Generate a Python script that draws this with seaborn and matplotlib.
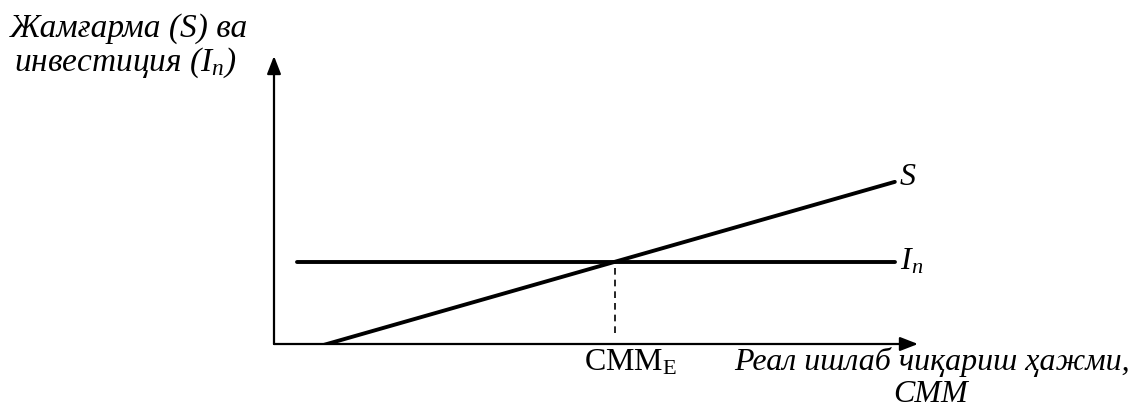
import matplotlib
matplotlib.use("Agg")
import matplotlib.pyplot as plt
import seaborn as sns
import pandas as pd

# Savings schedule S (rises with real output) and planned investment I_n (flat)
s_output = [0.745, 9.64]
s_saving = [-0.05, 5.63]
inv_output = [0.36, 9.64]
inv_level = [2.86, 2.86]

x_label = ["Реал ишлаб чиқариш ҳажми,", "СММ"]
y_label = ["Жамғарма (S) ва", "инвестиция (I$_n$)"]
eq_label = "СММ$_{\\mathrm{E}}$"

sns.set_theme(style="white")
plt.rcParams["font.family"] = ["Liberation Serif", "DejaVu Serif"]
plt.rcParams["text.color"] = "black"
plt.rcParams["mathtext.fontset"] = "custom"
plt.rcParams["mathtext.rm"] = "Liberation Serif"
plt.rcParams["mathtext.it"] = "Liberation Serif:italic"

fig = plt.figure(figsize=(11.28, 4.08), dpi=100)
ax = fig.add_axes([274 / 1128, 64 / 408, 644 / 1128, 288 / 408])
ax.set_xlim(0, 10)
ax.set_ylim(0, 10)
ax.axis("off")

s_df = pd.DataFrame({"output": s_output, "value": s_saving})
i_df = pd.DataFrame({"output": inv_output, "value": inv_level})
sns.lineplot(data=s_df, x="output", y="value", color="black", lw=2.8, ax=ax)
sns.lineplot(data=i_df, x="output", y="value", color="black", lw=2.8, ax=ax)

# equilibrium output where S = I_n
slope = (s_saving[1] - s_saving[0]) / (s_output[1] - s_output[0])
x_eq = s_output[0] + (inv_level[0] - s_saving[0]) / slope
ax.plot([x_eq, x_eq], [0.38, inv_level[0]], color="black", lw=1.2, ls=(0, (4, 3)))

# axes with arrowheads
arrow = dict(arrowstyle="-|>,head_length=0.9,head_width=0.35", color="black", lw=1.6,
             shrinkA=0, shrinkB=0)
ax.annotate("", xy=(10, 0), xytext=(0, 0), arrowprops=arrow, annotation_clip=False)
ax.annotate("", xy=(0, 10), xytext=(0, 0), arrowprops=arrow, annotation_clip=False)

fs = 23
ax.text(s_output[1] + 0.08, s_saving[1] + 0.15, "S", style="italic", fontsize=fs,
        ha="left", va="center")
ax.text(inv_output[1] + 0.08, inv_level[0], "I$_n$", style="italic", fontsize=fs,
        ha="left", va="center")
ax.text(x_eq + 0.23, -0.15, eq_label, fontsize=fs, ha="center", va="top")

fig.text(932 / 1128, 1 - 362 / 408, x_label[0], style="italic", fontsize=fs,
         ha="center", va="center")
fig.text(931 / 1128, 1 - 394 / 408, x_label[1], style="italic", fontsize=fs,
         ha="center", va="center")
fig.text(129 / 1128, 1 - 29 / 408, y_label[0], style="italic", fontsize=24,
         ha="center", va="center")
fig.text(125 / 1128, 1 - 63 / 408, y_label[1], style="italic", fontsize=24,
         ha="center", va="center")

fig.savefig("out.png", dpi=100)
